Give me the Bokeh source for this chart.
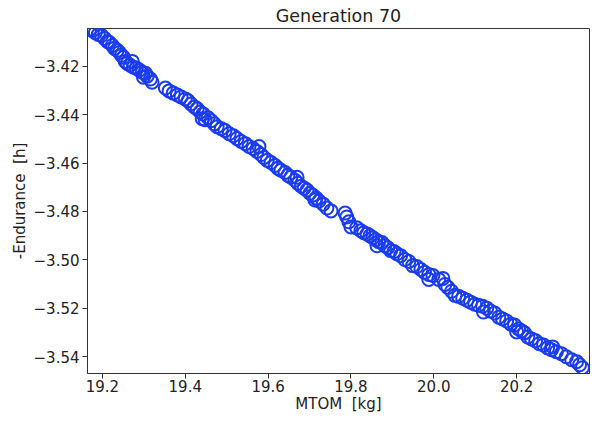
from bokeh.plotting import figure
from bokeh.models import FixedTicker, CustomJSTickFormatter, Range1d, ColumnDataSource
from bokeh.embed import file_html
from bokeh.resources import INLINE

title_text = "Generation 70"
x_label = "MTOM \u00a0[kg]"
y_label = "-Endurance \u00a0[h]"

x_ticks = [19.2, 19.4, 19.6, 19.8, 20.0, 20.2]
y_ticks = [-3.42, -3.44, -3.46, -3.48, -3.50, -3.52, -3.54]

mtom = [
    19.169, 19.176, 19.183, 19.190, 19.198, 19.205, 19.212, 19.217, 19.224, 19.229,
    19.236, 19.241, 19.246, 19.251, 19.255, 19.260, 19.267, 19.275, 19.282, 19.289,
    19.296, 19.304, 19.308, 19.316, 19.320,
    19.352, 19.361, 19.371, 19.381, 19.390, 19.400, 19.407, 19.414, 19.422, 19.429,
    19.436, 19.443, 19.448, 19.455, 19.463, 19.470, 19.477, 19.487, 19.496, 19.506,
    19.516, 19.525, 19.535, 19.545, 19.554, 19.564, 19.573, 19.583, 19.590, 19.598,
    19.607, 19.617, 19.624, 19.631, 19.641, 19.648, 19.655, 19.665, 19.672, 19.680,
    19.687, 19.694, 19.701, 19.708, 19.716, 19.723, 19.733, 19.742, 19.752,
    19.786, 19.790, 19.795, 19.800, 19.814, 19.824, 19.831, 19.839, 19.846, 19.853,
    19.860, 19.867, 19.875, 19.882, 19.889, 19.896, 19.904, 19.911, 19.920, 19.930,
    19.940, 19.949, 19.959, 19.969, 19.978, 19.988, 19.998, 20.012, 20.022, 20.027,
    20.034, 20.043, 20.051, 20.060, 20.070, 20.080, 20.089, 20.099, 20.108, 20.118,
    20.128, 20.137, 20.147, 20.157, 20.166, 20.176, 20.186, 20.195, 20.205, 20.212,
    20.219, 20.227, 20.236, 20.246, 20.255, 20.265, 20.275, 20.284, 20.296, 20.308,
    20.320, 20.333, 20.345, 20.352, 20.359,
    19.272, 19.299, 19.441, 19.578, 19.670, 19.713, 19.863, 19.988, 20.120, 20.200,
    20.287,
]

neg_endurance = [
    -3.4048, -3.4052, -3.4061, -3.4069, -3.4073, -3.4085, -3.4098, -3.4102, -3.4114, -3.4126,
    -3.4134, -3.4143, -3.4155, -3.4163, -3.4180, -3.4188, -3.4196, -3.4204, -3.4208, -3.4216,
    -3.4225, -3.4229, -3.4241, -3.4253, -3.4266,
    -3.4290, -3.4302, -3.4311, -3.4319, -3.4327, -3.4335, -3.4343, -3.4356, -3.4368, -3.4376,
    -3.4389, -3.4397, -3.4421, -3.4413, -3.4425, -3.4438, -3.4450, -3.4458, -3.4466, -3.4479,
    -3.4487, -3.4499, -3.4511, -3.4520, -3.4532, -3.4540, -3.4552, -3.4565, -3.4577, -3.4589,
    -3.4598, -3.4610, -3.4622, -3.4630, -3.4639, -3.4651, -3.4659, -3.4671, -3.4684, -3.4696,
    -3.4704, -3.4712, -3.4725, -3.4733, -3.4745, -3.4757, -3.4770, -3.4786, -3.4798,
    -3.4807, -3.4823, -3.4843, -3.4864, -3.4868, -3.4880, -3.4888, -3.4893, -3.4901, -3.4909,
    -3.4917, -3.4925, -3.4929, -3.4942, -3.4950, -3.4962, -3.4966, -3.4975, -3.4983, -3.4999,
    -3.5007, -3.5024, -3.5028, -3.5040, -3.5052, -3.5061, -3.5065, -3.5081, -3.5077, -3.5102,
    -3.5114, -3.5130, -3.5147, -3.5151, -3.5159, -3.5167, -3.5175, -3.5184, -3.5188, -3.5192,
    -3.5200, -3.5212, -3.5220, -3.5237, -3.5245, -3.5253, -3.5266, -3.5270, -3.5286, -3.5294,
    -3.5302, -3.5319, -3.5327, -3.5335, -3.5347, -3.5352, -3.5364, -3.5372, -3.5380, -3.5388,
    -3.5401, -3.5413, -3.5421, -3.5434, -3.5446,
    -3.4180, -3.4245, -3.4417, -3.4532, -3.4659, -3.4753, -3.4942, -3.5081, -3.5216, -3.5298,
    -3.5360,
]

FONT = "DejaVu Sans"
DARK = "#333333"

p = figure(width=591, height=419, output_backend="svg", toolbar_location=None,
           x_range=Range1d(19.164, 20.376), y_range=Range1d(-3.547, -3.4044),
           min_border_left=87, min_border_right=2, min_border_top=25, min_border_bottom=46)

p.title.text = title_text
p.title.align = "center"
p.title.text_font = FONT
p.title.text_font_size = "17.5px"
p.title.text_font_style = "normal"
p.title.text_color = "#222222"
p.title.standoff = 6
p.title.offset = 0

p.grid.visible = False
p.outline_line_color = DARK
p.outline_line_width = 1
p.background_fill_color = "white"
p.border_fill_color = "white"

for ax in (p.xaxis[0], p.yaxis[0]):
    ax.axis_line_color = DARK
    ax.major_tick_line_color = DARK
    ax.minor_tick_line_color = None
    ax.major_tick_out = 5
    ax.major_tick_in = 0
    ax.major_label_text_font = FONT
    ax.major_label_text_font_size = "15px"
    ax.major_label_text_color = "#222222"
    ax.axis_label_text_font = FONT
    ax.axis_label_text_font_size = "15px"
    ax.axis_label_text_font_style = "normal"
    ax.axis_label_text_color = "#222222"

p.xaxis.axis_label = x_label
p.yaxis.axis_label = y_label
p.xaxis.ticker = FixedTicker(ticks=x_ticks)
p.yaxis.ticker = FixedTicker(ticks=y_ticks)
p.xaxis.formatter = CustomJSTickFormatter(code="return tick.toFixed(1);")
p.yaxis.formatter = CustomJSTickFormatter(
    code="return (tick < 0 ? '\\u2212' : '') + Math.abs(tick).toFixed(2);")
p.xaxis.major_label_standoff = 1
p.yaxis.major_label_standoff = 3
p.xaxis.axis_label_standoff = 0
p.yaxis.axis_label_standoff = 2

src = ColumnDataSource(dict(x=mtom, y=neg_endurance))
p.scatter("x", "y", source=src, marker="circle", size=13, fill_color=None,
          line_color="#1a3cf0", line_width=2)

open("out.html", "w").write(file_html(p, INLINE))
